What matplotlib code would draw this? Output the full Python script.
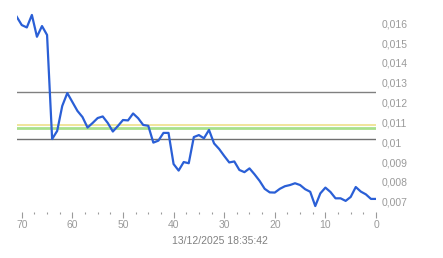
import matplotlib
matplotlib.use("Agg")
import matplotlib.pyplot as plt
from matplotlib.ticker import MultipleLocator, FuncFormatter

# Data: x = units ago (71 .. 0), y = value
x_vals = list(range(71, -1, -1))
y_vals = [0.01633, 0.01591, 0.01579, 0.01642, 0.01532, 0.01586, 0.01541, 0.01016,
          0.01057, 0.01183, 0.01248, 0.01203, 0.01158, 0.01127, 0.01074, 0.01097,
          0.01122, 0.01130, 0.01097, 0.01054, 0.01082, 0.01112, 0.01110, 0.01145,
          0.01121, 0.01087, 0.01083, 0.00998, 0.01008, 0.01047, 0.01047, 0.00890,
          0.00857, 0.00900, 0.00894, 0.01026, 0.01036, 0.01020, 0.01062, 0.00994,
          0.00966, 0.00931, 0.00898, 0.00903, 0.00860, 0.00849, 0.00868, 0.00838,
          0.00805, 0.00765, 0.00747, 0.00746, 0.00765, 0.00778, 0.00784, 0.00793,
          0.00784, 0.00763, 0.00750, 0.00678, 0.00742, 0.00771, 0.00749, 0.00717,
          0.00717, 0.00704, 0.00724, 0.00774, 0.00751, 0.00737, 0.00714, 0.00714]

# Reference levels
level_high = 0.01253
level_yellow = 0.01086
level_green = 0.01071
level_low = 0.01016

y_ticks = [0.007, 0.008, 0.009, 0.010, 0.011, 0.012, 0.013, 0.014, 0.015, 0.016]
x_ticks = [70, 60, 50, 40, 30, 20, 10, 0]
date_label = "13/12/2025 18:35:42"

plt.rcParams['font.family'] = ['Liberation Sans', 'DejaVu Sans']

fig = plt.figure(figsize=(4.43, 2.58), dpi=100)
ax = fig.add_axes([16.7 / 443, 46 / 258, (376 - 16.7) / 443, 202 / 258])

ax.axhline(level_high, color='#808080', lw=1.0, zorder=1)
ax.axhline(level_yellow, color='#eee08a', lw=1.2, zorder=1)
ax.axhline(level_green, color='#a8e08c', lw=2.0, zorder=1)
ax.axhline(level_low, color='#707070', lw=1.0, zorder=1)

ax.plot(x_vals, y_vals, color='#2a5fd6', lw=1.6, zorder=3, solid_joinstyle='round')

ax.set_xlim(71, 0)
ax.set_ylim(0.00648, 0.01667)

for s in ax.spines.values():
    s.set_visible(False)

ax.yaxis.tick_right()
ax.set_yticks(y_ticks)
ax.yaxis.set_major_formatter(FuncFormatter(lambda v, p: ('%g' % round(v, 4)).replace('.', ',')))
ax.tick_params(axis='y', length=0, pad=4, labelsize=7.5, labelcolor='#9a9a9a')

ax.set_xticks(x_ticks)
ax.xaxis.set_minor_locator(MultipleLocator(2.5))
ax.tick_params(axis='x', which='major', length=4, width=0.8, color='#9a9a9a',
               pad=2, labelsize=7.5, labelcolor='#9a9a9a', direction='out')
ax.tick_params(axis='x', which='minor', length=1.5, width=0.8, color='#9a9a9a', direction='out')

fig.text(219.5 / 443, 1 - 241 / 258, date_label, ha='center', va='center',
         fontsize=7.5, color='#808080')

fig.savefig('out.png', dpi=100, facecolor='white')
